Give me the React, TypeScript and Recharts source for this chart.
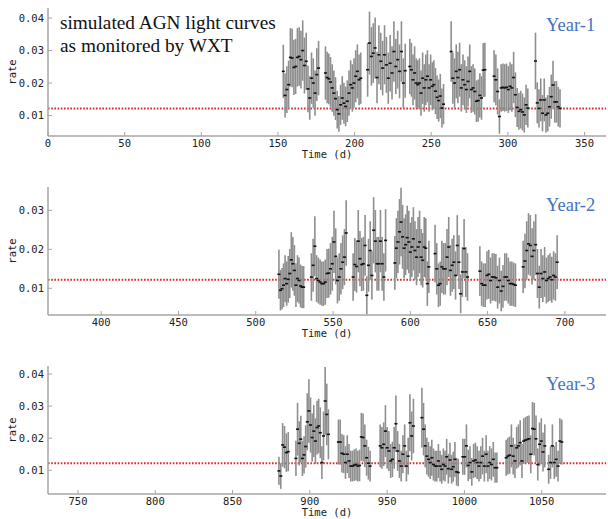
import React from "react";
import {
  ErrorBar,
  ReferenceLine,
  Scatter,
  ScatterChart,
  XAxis,
  YAxis,
} from "recharts";

// rates and 1-sigma errors in units of 1e-3 counts/s, one list per monitoring window
const year1Windows = [
  [153.5, 176.5],
  [181, 204],
  [208.5, 233],
  [236, 258],
  [263, 285],
  [291, 313],
  [318, 334],
];
const year1Rates = [
  [23.6, 16.2, 18.0, 19.5, 27.9, 27.7, 24.8, 25.1, 27.9, 28.2, 27.2, 30.0, 25.4, 26.7, 18.2, 15.4, 21.5, 20.0, 16.9, 22.6, 24.6],
  [23.1, 21.7, 21.3, 20.3, 18.5, 16.9, 15.2, 11.8, 10.5, 13.3, 15.4, 13.8, 12.8, 14.4, 16.9, 19.5, 18.5, 20.0, 22.1, 23.6, 21.0, 21.5],
  [24.1, 32.3, 28.2, 29.2, 30.8, 21.7, 28.7, 26.7, 24.6, 28.7, 25.6, 21.5, 26.1, 23.1, 29.7, 25.1, 27.2, 23.6, 29.7, 20.0, 23.8],
  [25.1, 24.1, 21.0, 23.1, 20.0, 19.5, 20.0, 16.9, 21.5, 18.5, 21.0, 22.1, 18.5, 21.0, 19.0, 19.5, 17.5, 15.6, 14.6, 16.0, 12.3, 13.5],
  [29.7, 21.5, 20.0, 23.6, 21.7, 24.1, 18.5, 21.0, 19.5, 18.0, 20.5, 23.6, 18.0, 18.5, 17.4, 14.4, 14.6, 16.2, 15.4, 24.0, 24.1],
  [22.1, 21.0, 17.4, 9.7, 18.5, 18.7, 18.5, 18.7, 18.0, 19.0, 18.5, 21.7, 16.4, 12.5, 11.3, 11.8, 11.1, 10.2, 13.3, 12.3],
  [26.8, 13.9, 12.2, 14.8, 10.7, 14.8, 10.2, 10.7, 12.7, 15.8, 19.4, 14.2, 14.2, 12.7, 12.2],
];
const year1Errs = [
  [8.2, 6.8, 7.2, 7.4, 9.0, 9.0, 8.5, 8.5, 9.0, 9.0, 8.9, 9.3, 8.6, 8.8, 7.2, 6.7, 7.9, 7.6, 7.0, 8.1, 8.4],
  [8.2, 7.9, 7.8, 7.7, 7.3, 7.0, 6.6, 5.8, 5.5, 6.2, 6.7, 6.3, 6.1, 6.4, 7.0, 7.5, 7.3, 7.6, 8.0, 8.3, 7.8, 7.9],
  [8.3, 9.7, 9.0, 9.2, 9.4, 7.9, 9.1, 8.8, 8.4, 9.1, 8.6, 7.9, 8.7, 8.2, 9.3, 8.5, 8.9, 8.3, 9.3, 7.6, 8.3],
  [8.5, 8.3, 7.8, 8.2, 7.6, 7.5, 7.6, 7.0, 7.9, 7.3, 7.8, 8.0, 7.3, 7.8, 7.4, 7.5, 7.1, 6.7, 6.5, 6.8, 6.0, 6.2],
  [9.3, 7.9, 7.6, 8.3, 7.9, 8.3, 7.3, 7.8, 7.5, 7.2, 7.7, 8.3, 7.2, 7.3, 7.1, 6.4, 6.5, 6.8, 6.7, 8.3, 8.3],
  [8.0, 7.8, 7.1, 5.3, 7.3, 7.3, 7.3, 7.3, 7.2, 7.4, 7.3, 7.9, 6.9, 6.0, 5.7, 5.8, 5.7, 5.4, 6.2, 6.0],
  [8.7, 6.3, 5.9, 6.6, 5.6, 6.6, 5.4, 5.6, 6.1, 6.8, 7.5, 6.4, 6.4, 6.1, 5.9],
];

const year2Windows = [
  [515, 531],
  [536, 558.5],
  [563, 584],
  [590, 612],
  [616, 637],
  [645, 668],
  [673, 695],
];
const year2Rates = [
  [13.6, 9.5, 9.9, 10.8, 12.5, 11.2, 12.3, 13.8, 17.3, 16.3, 14.6, 10.8, 12.5, 12.0, 10.6, 10.3, 10.3],
  [12.9, 15.9, 20.8, 12.5, 12.0, 11.6, 11.2, 11.2, 11.6, 13.8, 13.9, 15.0, 16.3, 21.9, 18.2, 12.0, 12.9, 15.0, 16.7, 18.0, 24.2],
  [12.9, 16.1, 15.6, 22.1, 17.6, 16.1, 16.3, 21.0, 8.2, 15.9, 19.7, 13.3, 24.9, 22.1, 16.3, 16.3, 22.1, 16.3, 12.9, 22.3],
  [16.5, 20.3, 21.9, 24.5, 27.0, 23.2, 20.3, 21.2, 23.0, 21.9, 19.3, 20.6, 22.7, 19.7, 18.0, 20.6, 21.9, 18.0, 17.2, 20.6, 20.3, 11.2, 15.5],
  [18.9, 15.0, 10.8, 11.2, 15.5, 15.0, 15.0, 18.0, 20.6, 14.6, 15.9, 16.7, 13.3, 21.0, 16.7, 8.6, 14.2, 20.2, 14.2, 12.9],
  [14.4, 11.2, 10.8, 10.8, 13.3, 13.6, 12.0, 12.9, 12.9, 12.7, 10.3, 12.0, 9.3, 10.5, 12.9, 12.9, 12.0, 11.2, 11.2, 11.0, 10.8],
  [15.5, 17.0, 19.7, 21.4, 21.0, 18.2, 19.7, 21.2, 13.8, 10.3, 13.8, 12.5, 14.2, 12.0, 12.5, 12.9, 12.2, 13.3, 12.9, 16.7],
];
const year2Errs = [
  [6.3, 5.2, 5.3, 5.6, 6.0, 5.7, 6.0, 6.3, 7.1, 6.9, 6.5, 5.6, 6.0, 5.9, 5.5, 5.4, 5.4],
  [6.1, 6.8, 7.7, 6.0, 5.9, 5.8, 5.7, 5.7, 5.8, 6.3, 6.3, 6.6, 6.9, 8.0, 7.2, 5.9, 6.1, 6.6, 6.9, 7.2, 8.4],
  [6.1, 6.8, 6.7, 8.0, 7.1, 6.8, 6.9, 7.8, 4.9, 6.8, 7.5, 6.2, 8.5, 8.0, 6.9, 6.9, 8.0, 6.9, 6.1, 8.0],
  [6.9, 7.7, 8.0, 8.4, 8.8, 8.2, 7.7, 7.8, 8.2, 8.0, 7.5, 7.7, 8.1, 7.5, 7.2, 7.7, 8.0, 7.2, 7.0, 7.7, 7.7, 5.7, 6.7],
  [7.4, 6.6, 5.6, 5.7, 6.7, 6.6, 6.6, 7.2, 7.7, 6.5, 6.8, 6.9, 6.2, 7.8, 6.9, 5.0, 6.4, 7.6, 6.4, 6.1],
  [6.4, 5.7, 5.6, 5.6, 6.2, 6.3, 5.9, 6.1, 6.1, 6.1, 5.5, 5.9, 5.2, 5.5, 6.1, 6.1, 5.9, 5.7, 5.7, 5.6, 5.6],
  [6.7, 7.0, 7.5, 7.9, 7.8, 7.2, 7.5, 7.8, 6.3, 5.5, 6.3, 6.0, 6.4, 5.9, 6.0, 6.1, 5.9, 6.2, 6.1, 6.9],
];

const year3Windows = [
  [880, 886],
  [891, 912],
  [918.5, 939],
  [945.5, 967],
  [972.5, 996],
  [999, 1021],
  [1027, 1052],
  [1054.5, 1063],
];
const year3Rates = [
  [9.8, 8.2, 17.9, 17.2, 15.5, 15.8],
  [13.7, 22.8, 18.4, 19.7, 13.7, 14.8, 17.4, 25.1, 28.5, 24.1, 20.2, 22.2, 19.1, 23.3, 23.8, 21.7, 12.4, 20.7, 31.6, 27.4, 21.2],
  [18.8, 18.8, 15.3, 15.0, 12.4, 15.0, 12.9, 11.3, 11.3, 11.6, 11.8, 11.3, 11.5, 20.4, 20.2, 17.6, 13.9, 12.2, 11.3],
  [17.6, 17.0, 18.1, 22.2, 17.0, 16.0, 12.9, 13.4, 17.0, 24.5, 16.0, 12.9, 11.3, 15.0, 17.6, 11.3, 14.4, 24.8, 20.7, 23.8],
  [26.4, 22.8, 17.6, 14.4, 13.4, 12.4, 13.9, 11.8, 11.3, 11.3, 12.9, 11.3, 10.3, 11.8, 11.3, 14.2, 10.5, 13.2, 10.3, 11.1, 13.4, 9.5, 9.3],
  [14.2, 14.2, 17.6, 11.5, 12.4, 9.5, 12.9, 13.2, 12.4, 11.3, 12.4, 14.4, 11.3, 15.0, 11.3, 12.4, 11.8, 13.4, 10.8, 10.8],
  [13.9, 14.4, 14.7, 17.6, 14.4, 12.9, 17.0, 17.6, 18.6, 12.9, 19.1, 19.4, 19.6, 19.8, 15.0, 23.0, 22.8, 19.8, 11.8, 18.1, 19.1, 15.7, 17.6],
  [10.3, 12.4, 17.6, 12.4, 13.4, 11.3, 19.1, 18.8],
];
const year3Errs = [
  [4.4, 4.0, 6.8, 6.6, 6.0, 6.1],
  [5.5, 8.2, 6.9, 7.3, 5.5, 5.8, 6.6, 8.9, 9.9, 8.6, 7.5, 8.1, 7.1, 8.4, 8.5, 7.9, 5.1, 7.6, 10.6, 9.6, 7.8],
  [7.0, 7.0, 6.0, 5.9, 5.1, 5.9, 5.3, 4.8, 4.8, 4.9, 5.0, 4.8, 4.9, 7.5, 7.5, 6.7, 5.6, 5.1, 4.8],
  [6.7, 6.5, 6.8, 8.1, 6.5, 6.2, 5.3, 5.5, 6.5, 8.8, 6.2, 5.3, 4.8, 5.9, 6.7, 4.8, 5.7, 8.9, 7.6, 8.5],
  [9.3, 8.2, 6.7, 5.7, 5.4, 5.1, 5.6, 5.0, 4.8, 4.8, 5.3, 4.8, 4.5, 5.0, 4.8, 5.6, 4.6, 5.4, 4.5, 4.7, 5.4, 4.3, 4.3],
  [5.6, 5.6, 6.7, 4.9, 5.1, 4.3, 5.3, 5.4, 5.1, 4.8, 5.1, 5.7, 4.8, 5.9, 4.8, 5.1, 5.0, 5.4, 4.7, 4.7],
  [5.6, 5.7, 5.8, 6.7, 5.7, 5.3, 6.5, 6.7, 7.0, 5.3, 7.1, 7.2, 7.3, 7.3, 5.9, 8.3, 8.2, 7.3, 5.0, 6.8, 7.1, 6.1, 6.7],
  [4.5, 5.1, 6.7, 5.1, 5.4, 4.8, 7.1, 7.0],
];

const year1XTicks = [0, 50, 100, 150, 200, 250, 300, 350];
const year2XTicks = [400, 450, 500, 550, 600, 650, 700];
const year3XTicks = [750, 800, 850, 900, 950, 1000, 1050];
const year1YTicks = [0.01, 0.02, 0.03, 0.04];
const year2YTicks = [0.01, 0.02, 0.03];
const year3YTicks = [0.01, 0.02, 0.03, 0.04];

const threshold = 0.0122;

// spread each window's samples evenly between its first and last day
function buildPoints(windows: number[][], rates: number[][], errs: number[][]) {
  return windows.flatMap(([start, end], w) =>
    rates[w].map((r, i) => ({
      t: start + (i * (end - start)) / (rates[w].length - 1),
      rate: r / 1000,
      err: errs[w][i] / 1000,
    }))
  );
}

const mono = "'DejaVu Sans Mono', monospace";
const axisColor = "#a6a6a6";
const tickStyle = { fill: "#222", fontSize: 10.5, fontFamily: mono };

const Dash = (props: any) => (
  <rect x={props.cx - 1.5} y={props.cy - 0.8} width={3} height={1.6} fill="#111" />
);

type PanelProps = {
  top: number;
  height: number;
  xAxisHeight: number;
  labelOffset: number;
  data: { t: number; rate: number; err: number }[];
  xDomain: [number, number];
  xTicks: number[];
  yDomain: [number, number];
  yTicks: number[];
};

function Panel(p: PanelProps) {
  return (
    <div style={{ position: "absolute", left: 0, top: p.top }}>
      <ScatterChart
        width={608}
        height={p.height}
        margin={{ top: 8, right: 2, bottom: 0, left: 0 }}
      >
        <XAxis
          type="number"
          dataKey="t"
          domain={p.xDomain}
          ticks={p.xTicks}
          interval={0}
          allowDataOverflow
          height={p.xAxisHeight}
          tickSize={-4}
          tickMargin={8}
          axisLine={{ stroke: axisColor, strokeWidth: 1.5 }}
          tickLine={{ stroke: axisColor, strokeWidth: 1 }}
          tick={tickStyle}
          label={{
            value: "Time (d)",
            position: "insideBottom",
            offset: p.labelOffset,
            style: { fill: "#222", fontSize: 10.5, fontFamily: mono },
          }}
        />
        <XAxis
          xAxisId="top"
          orientation="top"
          type="number"
          domain={p.xDomain}
          allowDataOverflow
          height={0}
          tick={false}
          tickLine={false}
          axisLine={{ stroke: axisColor, strokeWidth: 1.5 }}
        />
        <YAxis
          type="number"
          dataKey="rate"
          domain={p.yDomain}
          ticks={p.yTicks}
          interval={0}
          allowDataOverflow
          width={48}
          tickSize={-4}
          tickMargin={8}
          tickFormatter={(v: number) => v.toFixed(2)}
          axisLine={{ stroke: axisColor, strokeWidth: 1.5 }}
          tickLine={{ stroke: axisColor, strokeWidth: 1 }}
          tick={tickStyle}
          label={{
            value: "rate",
            angle: -90,
            position: "insideLeft",
            offset: 12,
            style: { textAnchor: "middle", fill: "#222", fontSize: 10.5, fontFamily: mono },
          }}
        />
        <YAxis
          yAxisId="right"
          orientation="right"
          type="number"
          domain={p.yDomain}
          allowDataOverflow
          width={0}
          tick={false}
          tickLine={false}
          axisLine={{ stroke: axisColor, strokeWidth: 1.5 }}
        />
        <ReferenceLine
          y={threshold}
          stroke="#e4261f"
          strokeWidth={2}
          strokeDasharray="1.6 1.6"
        />
        <Scatter data={p.data} shape={Dash} isAnimationActive={false}>
          <ErrorBar
            dataKey="err"
            direction="y"
            width={0}
            stroke="#8e8e8e"
            strokeWidth={1.6}
            isAnimationActive={false}
          />
        </Scatter>
      </ScatterChart>
    </div>
  );
}

export default function App() {
  return (
    <div
      style={{
        position: "absolute",
        left: 0,
        top: 0,
        width: 608,
        height: 519,
        background: "#fff",
        overflow: "hidden",
      }}
    >
      <Panel
        top={0}
        height={170}
        xAxisHeight={34}
        labelOffset={12}
        data={buildPoints(year1Windows, year1Rates, year1Errs)}
        xDomain={[0, 364]}
        xTicks={year1XTicks}
        yDomain={[0.0037, 0.0431]}
        yTicks={year1YTicks}
      />
      <Panel
        top={179}
        height={170}
        xAxisHeight={34}
        labelOffset={12}
        data={buildPoints(year2Windows, year2Rates, year2Errs)}
        xDomain={[365.6, 726.6]}
        xTicks={year2XTicks}
        yDomain={[0.00315, 0.036]}
        yTicks={year2YTicks}
      />
      <Panel
        top={358}
        height={161}
        xAxisHeight={25}
        labelOffset={3}
        data={buildPoints(year3Windows, year3Rates, year3Errs)}
        xDomain={[730.6, 1091.6]}
        xTicks={year3XTicks}
        yDomain={[0.0026, 0.0425]}
        yTicks={year3YTicks}
      />
      <svg
        width={608}
        height={519}
        style={{ position: "absolute", left: 0, top: 0, pointerEvents: "none" }}
      >
        <g fontFamily="'Liberation Serif', serif" fontSize={19.3} fill="#111">
          <text x={60} y={28.5}>simulated AGN light curves</text>
          <text x={60} y={51.5}>as monitored by WXT</text>
        </g>
        <g fontFamily="'Liberation Serif', serif" fontSize={18.5} fill="#4472c4">
          <text x={546} y={31}>Year-1</text>
          <text x={546} y={211}>Year-2</text>
          <text x={546} y={390}>Year-3</text>
        </g>
      </svg>
    </div>
  );
}
